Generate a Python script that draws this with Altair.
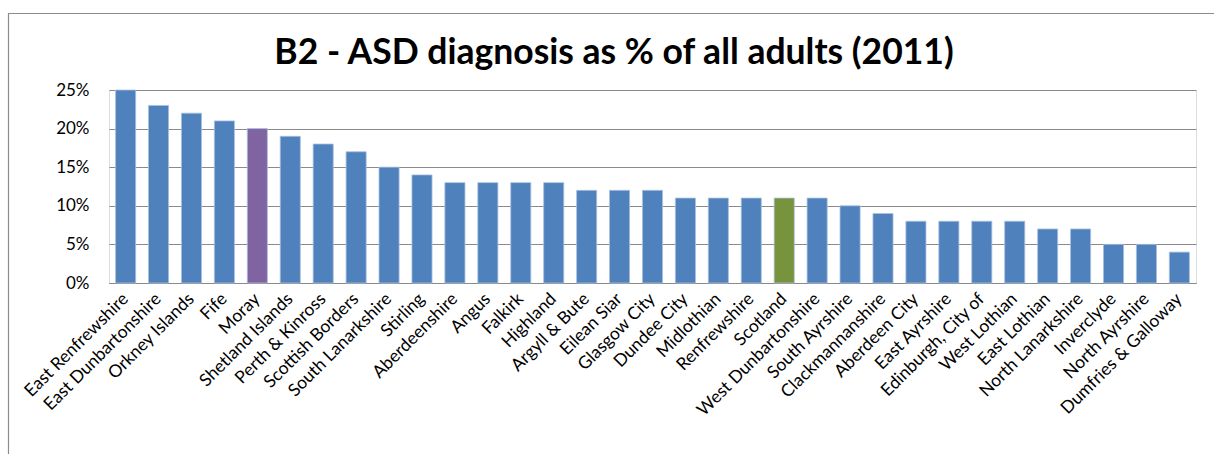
import altair as alt
import pandas as pd

# Adult ASD diagnosis share by council area, 2011
areas = [
    "East Renfrewshire", "East Dunbartonshire", "Orkney Islands", "Fife", "Moray",
    "Shetland Islands", "Perth & Kinross", "Scottish Borders", "South Lanarkshire",
    "Stirling", "Aberdeenshire", "Angus", "Falkirk", "Highland", "Argyll & Bute",
    "Eilean Siar", "Glasgow City", "Dundee City", "Midlothian", "Renfrewshire",
    "Scotland", "West Dunbartonshire", "South Ayrshire", "Clackmannanshire",
    "Aberdeen City", "East Ayrshire", "Edinburgh, City of", "West Lothian",
    "East Lothian", "North Lanarkshire", "Inverclyde", "North Ayrshire",
    "Dumfries & Galloway",
]
shares = [
    0.25, 0.23, 0.22, 0.21, 0.20,
    0.19, 0.18, 0.17, 0.15,
    0.14, 0.13, 0.13, 0.13, 0.13, 0.12,
    0.12, 0.12, 0.11, 0.11, 0.11,
    0.11, 0.11, 0.10, 0.09,
    0.08, 0.08, 0.08, 0.08,
    0.07, 0.07, 0.05, 0.05,
    0.04,
]
y_ticks = [0, 0.05, 0.10, 0.15, 0.20, 0.25]
title_text = "B2 - ASD diagnosis as % of all adults (2011)"

df = pd.DataFrame({"area": areas, "share": shares})
df["group"] = [
    "Scotland" if a == "Scotland" else ("Moray" if a == "Moray" else "Council")
    for a in areas
]

W, H = 1087, 193
PAD_L, PAD_T = 109, 90

one_row = pd.DataFrame({"k": [0]})

# outer chart frame
frame = alt.Chart(one_row).mark_rect(
    fill=None, stroke="#8c8c8c", strokeWidth=1.2
).encode(
    x=alt.value(-100.5), x2=alt.value(1214 - PAD_L + 20),
    y=alt.value(-76.5), y2=alt.value(454 - PAD_T + 20),
)

# chart heading
heading = alt.Chart(one_row).mark_text(
    font="Lato", fontSize=35.5, fontWeight="bold", color="#000000",
    align="center", baseline="alphabetic",
).encode(
    x=alt.value(614 - PAD_L), y=alt.value(64 - PAD_T), text=alt.value(title_text),
)

bars = alt.Chart(df).mark_bar(stroke="#a9c0de", strokeWidth=0.8).encode(
    x=alt.X(
        "area:N", sort=None, title=None,
        scale=alt.Scale(paddingInner=0.39, paddingOuter=0.2),
        axis=alt.Axis(
            labelAngle=-45, labelAlign="right", labelBaseline="middle",
            labelPadding=13, ticks=False, domainColor="#8a8a8a", domainWidth=1.2,
            labelFont="Lato", labelFontSize=17.5, labelColor="#000000",
            labelOverlap=False, labelLimit=0,
        ),
    ),
    y=alt.Y(
        "share:Q", title=None,
        scale=alt.Scale(domain=[0, 0.25], nice=False),
        axis=alt.Axis(
            values=y_ticks, format=".0%", domain=False, ticks=False,
            gridColor="#8a8a8a", gridWidth=1.2, labelPadding=20,
            labelFont="Lato", labelFontSize=17, labelColor="#000000",
        ),
    ),
    color=alt.Color(
        "group:N", legend=None,
        scale=alt.Scale(domain=["Council", "Moray", "Scotland"],
                        range=["#4f81bd", "#8064a2", "#77933c"]),
    ),
)

chart = alt.layer(frame, heading, bars).properties(
    width=W, height=H,
    autosize=alt.AutoSizeParams(type="none"),
    padding={"left": PAD_L, "top": PAD_T, "right": 1214 - PAD_L - W, "bottom": 454 - PAD_T - H},
).configure_view(stroke=None).configure(background="white")

chart.save("out.html", embed_options={"renderer": "svg", "actions": False})
